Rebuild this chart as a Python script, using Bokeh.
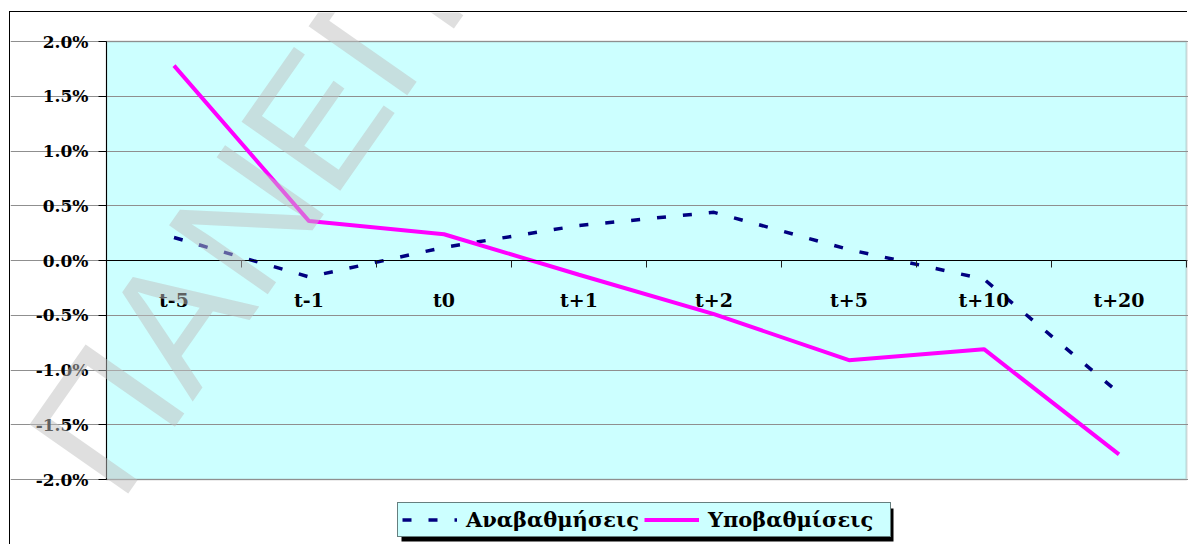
from bokeh.plotting import figure
from bokeh.models import (FixedTicker, PrintfTickFormatter, Range1d, Legend,
                          LegendItem, Label, BoxAnnotation)
from bokeh.embed import file_html
from bokeh.resources import INLINE

# Event-window categories and average abnormal returns (%)
categories = ["t-5", "t-1", "t0", "t+1", "t+2", "t+5", "t+10", "t+20"]
upgrades = [0.21, -0.15, 0.12, 0.32, 0.44, 0.10, -0.17, -1.21]      # Αναβαθμήσεις
downgrades = [1.78, 0.36, 0.24, -0.13, -0.49, -0.91, -0.81, -1.77]  # Υποβαθμίσεις
y_ticks = [-2.0, -1.5, -1.0, -0.5, 0.0, 0.5, 1.0, 1.5, 2.0]

series_names = ["Αναβαθμήσεις", "Υποβαθμίσεις"]
watermark_text = "ΠΑΝΕΠ"

# canvas sits inside a chart-area border drawn with CSS
OFF_X, OFF_Y = 10, 12
W, H = 1188 - OFF_X, 545 - OFF_Y
# plot-area box inside the canvas (pixels)
PA_LEFT, PA_RIGHT, PA_TOP, PA_BOTTOM = 96, 1176, 29, 467

n = len(categories)
x_lo, x_hi = -0.5, n - 0.5
y_lo, y_hi = y_ticks[0], y_ticks[-1]
kx = (x_hi - x_lo) / (PA_RIGHT - PA_LEFT)
ky = (y_hi - y_lo) / (PA_BOTTOM - PA_TOP)


def px_x(px):
    return x_lo + (px - PA_LEFT) * kx


def px_y(py):
    return y_hi - (py - PA_TOP) * ky


x_pos = list(range(n))

# the frame spans the whole canvas; axes are pinned to the plot-area box
p = figure(width=W, height=H, output_backend="svg", toolbar_location=None,
           x_range=Range1d(px_x(0), px_x(W)),
           y_range=Range1d(px_y(H), px_y(0)),
           min_border_left=0, min_border_right=0,
           min_border_top=0, min_border_bottom=0)
p.styles = {"margin-left": f"{OFF_X}px", "margin-top": f"{OFF_Y}px",
            "box-shadow": "-1px -1px 0 0 black"}

p.background_fill_color = "white"
p.border_fill_color = "white"
p.outline_line_color = None

# plot area
p.add_layout(BoxAnnotation(left=x_lo, right=x_hi, bottom=y_lo, top=y_hi,
                           fill_color="#CCFFFF", fill_alpha=1,
                           line_color="#808080", line_width=2, level="image"))

serif = "DejaVu Serif"

# y axis: percentages
yax = p.yaxis[0]
yax.fixed_location = x_lo
yax.bounds = (y_lo, y_hi)
yax.ticker = FixedTicker(ticks=y_ticks)
yax.formatter = PrintfTickFormatter(format="%.1f%%")
yax.major_label_text_font = serif
yax.major_label_text_font_style = "bold"
yax.major_label_text_font_size = "17px"
yax.major_label_text_color = "black"
yax.major_tick_out = 8
yax.major_tick_in = 0
yax.minor_tick_line_color = None
yax.major_label_standoff = 10
yax.axis_line_color = "black"
yax.major_tick_line_color = "black"

# x axis crossing at zero: labels at category centres, ticks at boundaries
xax = p.xaxis[0]
xax.fixed_location = 0
xax.bounds = (x_lo, x_hi)
xax.ticker = FixedTicker(ticks=x_pos,
                         minor_ticks=[i - 0.5 for i in range(n + 1)])
xax.major_label_overrides = {i: c for i, c in zip(x_pos, categories)}
xax.major_tick_line_color = None
xax.major_tick_out = 0
xax.major_tick_in = 0
xax.minor_tick_out = 7
xax.minor_tick_in = 0
xax.minor_tick_line_color = "#202020"
xax.axis_line_color = "black"
xax.major_label_standoff = 21
xax.major_label_text_font = serif
xax.major_label_text_font_style = "bold"
xax.major_label_text_font_size = "19px"
xax.major_label_text_color = "black"

p.xgrid.visible = False
p.ygrid.ticker = FixedTicker(ticks=y_ticks)
p.ygrid.bounds = (x_lo, x_hi)
p.ygrid.grid_line_color = "#8f8f8f"
p.ygrid.grid_line_width = 1

r_up = p.line(x_pos, upgrades, line_color="#000080", line_width=3.5,
              line_dash="9 17")
r_down = p.line(x_pos, downgrades, line_color="#FF00FF", line_width=4)

# Legend box (pixels in the canvas) and its drop shadow
LG_LEFT, LG_BOTTOM = 387, 525
LG_W, LG_H = 492, 33
SHADOW = 4
p.add_layout(BoxAnnotation(left=px_x(LG_LEFT + SHADOW),
                           right=px_x(LG_LEFT + LG_W + SHADOW),
                           top=px_y(LG_BOTTOM - LG_H + SHADOW),
                           bottom=px_y(LG_BOTTOM + SHADOW),
                           fill_color="black", fill_alpha=1, line_color=None))

legend = Legend(items=[LegendItem(label=series_names[0], renderers=[r_up]),
                       LegendItem(label=series_names[1], renderers=[r_down])],
                location=(LG_LEFT, H - LG_BOTTOM), orientation="horizontal",
                background_fill_color="#CCFFFF", background_fill_alpha=1,
                border_line_color="black", border_line_width=1.5,
                label_text_font=serif, label_text_font_style="bold",
                label_text_font_size="21px", label_text_color="black",
                glyph_width=55, glyph_height=25, label_height=25,
                label_width=178, label_standoff=9,
                spacing=0, padding=4, margin=0)
p.add_layout(legend, "center")

# Diagonal watermark
p.add_layout(Label(x=px_x(60), y=px_y(458),
                   text=watermark_text, angle=0.96, text_font="Liberation Sans",
                   text_font_size="175px", text_color="#c0c0c0", text_alpha=0.5,
                   text_align="left", text_baseline="alphabetic"))

open("out.html", "w").write(file_html(p, INLINE))
